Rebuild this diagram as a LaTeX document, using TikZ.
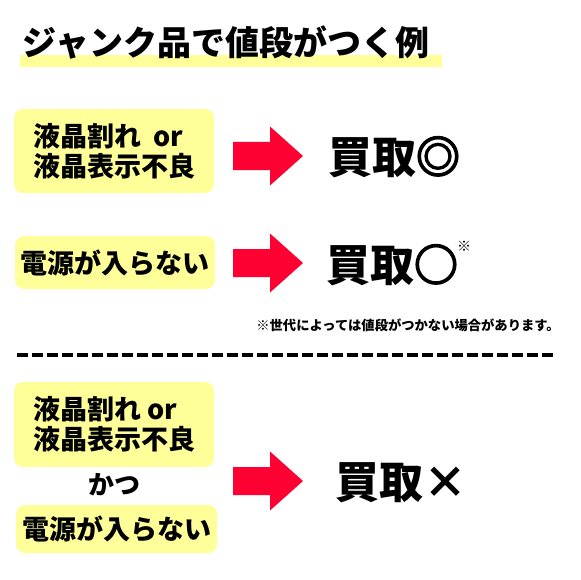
\documentclass[tikz,border=0pt]{standalone}
\usepackage{fontspec}
\setmainfont{Noto Sans CJK JP}
\newfontfamily\thicksym{Noto Sans CJK JP}[FakeBold=3.5]
\definecolor{boxyellow}{HTML}{FFFF99}
\definecolor{arrowred}{HTML}{FF0033}
\tikzset{
  box/.style={fill=boxyellow, rounded corners=9pt, inner sep=0pt, align=left,
    font=\fontsize{27}{30}\selectfont\bfseries},
  result/.style={inner sep=0pt, font=\fontsize{44}{48}\selectfont\bfseries},
  plain/.style={inner sep=0pt, font=\fontsize{26}{30}\selectfont\bfseries},
  redarrow/.pic={\fill[arrowred] (0,-14)--(37,-14)--(37,-29.5)--(70,0)--(37,29.5)--(37,14)--(0,14)--cycle;}
}
\begin{document}
\begin{tikzpicture}[x=1pt,y=-1pt]
\useasboundingbox[fill=white] (0,0) rectangle (580,580);
% title
\fill[boxyellow] (20,55) rectangle (442,67);
\node[inner sep=0pt, font=\fontsize{34}{40}\selectfont\bfseries] (title) at (226,42) {ジャンク品で値段がつく例};
% row 1
\node[box, minimum width=200pt, minimum height=84pt] (b1) at (114,151) {液晶割れ\ \ or\\液晶表示不良};
\pic at (233,156) {redarrow};
\node[result] (r1) at (394,157) {買取{\thicksym ◎}};
% row 2
\node[box, minimum width=200pt, minimum height=53pt, align=center] (b2) at (115,262.5) {電源が入らない};
\pic at (233,263) {redarrow};
\node[result] (r2) at (392,265) {買取{\thicksym ○}};
\node[inner sep=0pt, font=\fontsize{14}{16}\selectfont] (mark) at (464,246) {※};
% note
\node[inner sep=0pt, font=\fontsize{13.3}{15}\selectfont\bfseries] (note) at (408,325) {※世代によっては値段がつかない場合があります。};
% separator
\draw[line width=4pt, dash pattern=on 11pt off 4pt] (17,355) -- (556,355);
% row 3
\node[box, minimum width=200pt, minimum height=85pt] (b3) at (114,424.5) {液晶割れ or\\液晶表示不良};
\node[plain] (katsu) at (114,485) {かつ};
\node[box, minimum width=201pt, minimum height=48pt, align=center] (b4) at (116.5,529) {電源が入らない};
\pic at (233,481) {redarrow};
\node[result] (r3) at (401,483) {買取×};
\end{tikzpicture}
\end{document}
